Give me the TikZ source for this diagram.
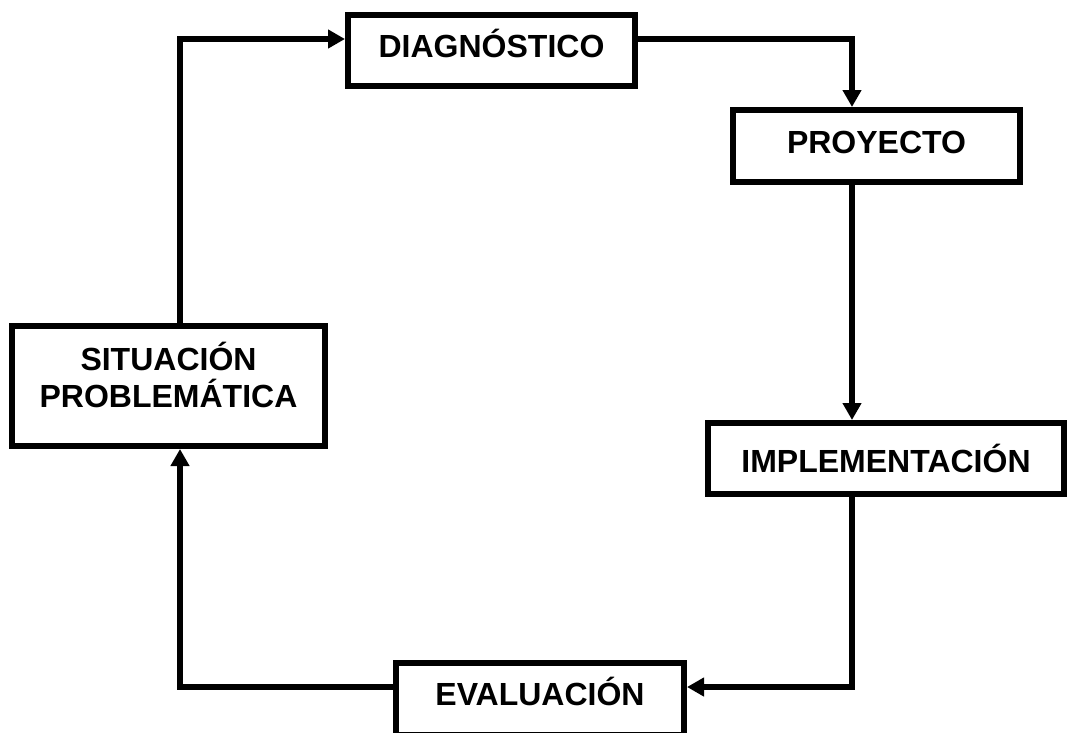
\documentclass[tikz,border=0pt]{standalone}
\usepackage{fontspec}
\setmainfont{Liberation Sans}
\usetikzlibrary{arrows.meta}
\begin{document}
\begin{tikzpicture}[x=1pt,y=-1pt,
  box/.style={draw=black,line width=6pt,rectangle,inner sep=0pt,fill=white},
  lbl/.style={anchor=base,inner sep=0pt,font=\fontsize{32}{38}\selectfont\bfseries},
  conn/.style={draw=black,line width=6pt,-{Triangle[length=17pt,width=18pt]}}]
\useasboundingbox (0,0) rectangle (1067,732);
\clip (0,0) rectangle (1067,732);
\node[box,minimum width=287pt,minimum height=71pt] (diag) at (491.5,50.5) {};
\node[box,minimum width=287pt,minimum height=72pt] (proy) at (876.5,146) {};
\node[box,minimum width=313pt,minimum height=120pt] (sit) at (168.5,386) {};
\node[box,minimum width=356pt,minimum height=71pt] (impl) at (886,458.5) {};
\node[box,minimum width=288pt,minimum height=72pt] (eval) at (540,699) {};
\node[lbl] (tdiag) at (491.5,57.5) {DIAGNÓSTICO};
\node[lbl] (tproy) at (876.5,153.5) {PROYECTO};
\node[lbl] (tsit1) at (168.5,370.5) {SITUACIÓN};
\node[lbl] (tsit2) at (168.5,407.5) {PROBLEMÁTICA};
\node[lbl] (timpl) at (886,472.5) {IMPLEMENTACIÓN};
\node[lbl] (teval) at (540,705.5) {EVALUACIÓN};
\coordinate (c1) at (180,39);
\coordinate (c2) at (852,39);
\coordinate (c3) at (852,687);
\coordinate (c4) at (180,687);
\draw[conn] (sit.north -| c1) -- (c1) -- (c1 -| diag.west);
\draw[conn] (c2 -| diag.east) -- (c2) -- (c2 |- proy.north);
\draw[conn] (proy.south -| c2) -- (impl.north -| c2);
\draw[conn] (impl.south -| c3) -- (c3) -- (c3 -| eval.east);
\draw[conn] (c4 -| eval.west) -- (c4) -- (c4 |- sit.south);
\end{tikzpicture}
\end{document}
